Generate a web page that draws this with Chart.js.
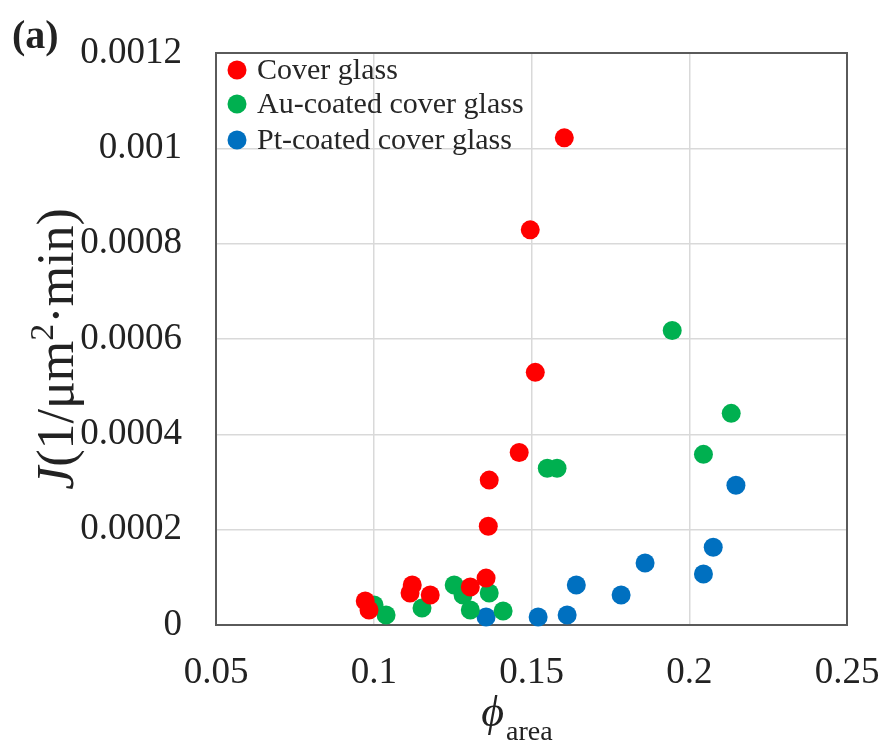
<!DOCTYPE html>
<html>
<head>
<meta charset="utf-8">
<script src="https://cdn.jsdelivr.net/npm/chart.js@4.4.1/dist/chart.umd.min.js"></script>
<style>
  html, body { margin: 0; padding: 0; background: #ffffff; }
  #wrap { position: relative; width: 885px; height: 747px; }
</style>
</head>
<body>
<div id="wrap"><canvas id="c" width="885" height="747"></canvas></div>
<script>
// ---- Data ----
const seriesNames = ['Cover glass', 'Au-coated cover glass', 'Pt-coated cover glass'];
const seriesColors = ['#FF0000', '#00B050', '#0070C0'];

const coverX = [0.1604, 0.1496, 0.1512, 0.1461, 0.1366, 0.1363, 0.1356, 0.1306, 0.1122, 0.1115, 0.1179, 0.0973, 0.0985];
const coverY = [0.001022, 0.000829, 0.000530, 0.000362, 0.000304, 0.000207, 0.0000984, 0.0000796, 0.0000838, 0.0000670, 0.0000628, 0.0000503, 0.0000314];

const auX = [0.1946, 0.2133, 0.2045, 0.1550, 0.1581, 0.1001, 0.1039, 0.1153, 0.1255, 0.1283, 0.1306, 0.1366, 0.1410];
const auY = [0.000618, 0.000444, 0.000358, 0.000329, 0.000329, 0.0000419, 0.0000209, 0.0000356, 0.0000838, 0.0000628, 0.0000314, 0.0000670, 0.0000293];

const ptX = [0.1356, 0.1521, 0.1613, 0.1642, 0.1784, 0.1860, 0.2045, 0.2076, 0.2148];
const ptY = [0.0000168, 0.0000168, 0.0000209, 0.0000838, 0.0000628, 0.000130, 0.000107, 0.000163, 0.000293];

const xTickLabels = ['0.05', '0.1', '0.15', '0.2', '0.25'];
const yTickLabels = ['0', '0.0002', '0.0004', '0.0006', '0.0008', '0.001', '0.0012'];

// ---- Build datasets ----
function pts(xs, ys) { return xs.map((x, i) => ({ x: x, y: ys[i] })); }
const allSeries = [pts(coverX, coverY), pts(auX, auY), pts(ptX, ptY)];

const SERIF = '"Liberation Serif", "Times New Roman", serif';

const datasets = allSeries.map((d, i) => ({
  label: seriesNames[i],
  data: d,
  backgroundColor: seriesColors[i],
  borderColor: seriesColors[i],
  borderWidth: 0,
  pointRadius: 9.5,
  pointHoverRadius: 9.5,
  clip: false
}));

// ---- Custom drawing: frame, legend, titles ----
const decor = {
  id: 'decor',
  beforeDatasetsDraw(chart) {
    const ctx = chart.ctx, a = chart.chartArea;
    ctx.save();
    ctx.strokeStyle = '#5a5a5a';
    ctx.lineWidth = 2;
    ctx.strokeRect(a.left, a.top, a.right - a.left, a.bottom - a.top);
    ctx.restore();
  },
  afterDraw(chart) {
    const ctx = chart.ctx, a = chart.chartArea;
    ctx.save();
    // legend inside plot
    const rowsY = [70, 104, 140];
    ctx.font = '30px ' + SERIF;
    ctx.textBaseline = 'middle';
    ctx.textAlign = 'left';
    seriesNames.forEach((name, i) => {
      ctx.fillStyle = seriesColors[i];
      ctx.beginPath();
      ctx.arc(a.left + 21, rowsY[i], 9.5, 0, Math.PI * 2);
      ctx.fill();
      ctx.fillStyle = '#262626';
      ctx.fillText(name, a.left + 41, rowsY[i] + 1);
    });

    // panel label
    ctx.fillStyle = '#222222';
    ctx.font = 'bold 40px ' + SERIF;
    ctx.textBaseline = 'alphabetic';
    ctx.fillText('(a)', 12, 48);

    // x axis title: phi_area
    const big = 'italic 44px ' + SERIF;
    const sub = '28px ' + SERIF;
    ctx.font = big;
    const wPhi = ctx.measureText('\u03D5').width;
    ctx.font = sub;
    const wSub = ctx.measureText('area').width;
    let x0 = 517 - (wPhi + wSub + 2) / 2;
    ctx.font = big;
    ctx.fillText('\u03D5', x0, 726);
    ctx.font = sub;
    ctx.fillText('area', x0 + wPhi + 2, 740);

    // y axis title: J (1/μm²·min)
    const parts = [
      { t: 'J', f: 'italic 52px ' + SERIF, dy: 0 },
      { t: '(1/\u03BCm', f: '52px ' + SERIF, dy: 0 },
      { t: '2', f: '34px ' + SERIF, dy: -20 },
      { t: '\u00B7min)', f: '52px ' + SERIF, dy: 0 }
    ];
    let total = 0;
    parts.forEach(p => { ctx.font = p.f; p.w = ctx.measureText(p.t).width; total += p.w; });
    ctx.translate(73, 349);
    ctx.rotate(-Math.PI / 2);
    let cx = -total / 2;
    parts.forEach(p => {
      ctx.font = p.f;
      ctx.fillText(p.t, cx, p.dy);
      cx += p.w;
    });
    ctx.restore();
  }
};

new Chart(document.getElementById('c'), {
  type: 'scatter',
  data: { datasets: datasets },
  options: {
    responsive: false,
    animation: false,
    events: [],
    layout: { padding: { top: 53, right: 38, left: 0, bottom: 0 } },
    plugins: { legend: { display: false }, tooltip: { enabled: false }, title: { display: false } },
    scales: {
      x: {
        type: 'linear',
        min: 0.05, max: 0.25,
        afterFit(s) { s.height = 122; s.paddingLeft = 0; s.paddingRight = 0; },
        grid: { color: '#d9d9d9', lineWidth: 1.5, drawTicks: false },
        border: { display: false },
        ticks: {
          stepSize: 0.05,
          padding: 26,
          color: '#222222',
          font: { family: SERIF, size: 37 },
          maxRotation: 0,
          autoSkip: false,
          callback: (v, i) => xTickLabels[i]
        }
      },
      y: {
        type: 'linear',
        min: 0, max: 0.0012,
        afterFit(s) { s.width = 216; s.paddingTop = 0; s.paddingBottom = 0; },
        grid: { color: '#d9d9d9', lineWidth: 1.5, drawTicks: false },
        border: { display: false },
        ticks: {
          stepSize: 0.0002,
          padding: 34,
          color: '#222222',
          font: { family: SERIF, size: 37 },
          autoSkip: false,
          callback: (v, i) => yTickLabels[i]
        }
      }
    }
  },
  plugins: [decor]
});
</script>
</body>
</html>
